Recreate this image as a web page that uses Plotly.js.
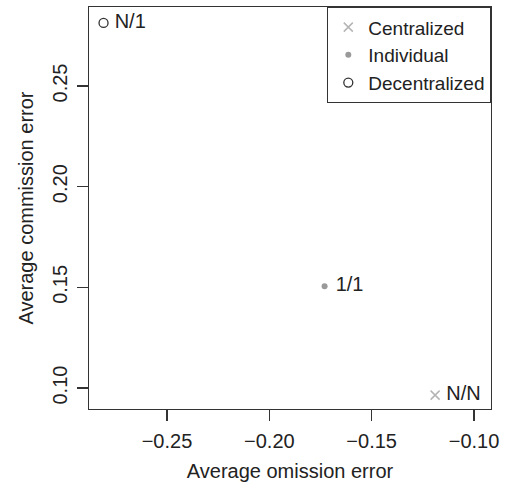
<!DOCTYPE html>
<html><head><meta charset="utf-8">
<script src="https://cdn.plot.ly/plotly-3.0.1.min.js"></script>
<style>html,body{margin:0;padding:0;background:#fff}#chart{width:506px;height:489px}</style>
</head><body><div id="chart"></div>
<script>
const groups = ["Centralized", "Individual", "Decentralized"];
const labels = ["N/N", "1/1", "N/1"];
const omission = [-0.119, -0.173, -0.281];
const commission = [0.0965, 0.1505, 0.2813];
const xTicks = [-0.25, -0.20, -0.15, -0.10];
const xTickText = ["\u22120.25", "\u22120.20", "\u22120.15", "\u22120.10"];
const yTicks = [0.10, 0.15, 0.20, 0.25];
const yTickText = ["0.10", "0.15", "0.20", "0.25"];

const styles = [
  {symbol: "x-thin-open", size: 9, color: "#b5b5b5", line: {width: 1.5, color: "#b5b5b5"}},
  {symbol: "circle", size: 6, color: "#9a9a9a", line: {width: 0}},
  {symbol: "circle-open", size: 9, color: "#333", line: {width: 1.3, color: "#333"}}
];

const font = {family: "Liberation Sans, Arial, sans-serif", size: 20, color: "#222"};
const legendFont = {family: "Liberation Sans, Arial, sans-serif", size: 19, color: "#222"};

const traces = groups.map((g, i) => ({
  type: "scatter", mode: "markers", name: g,
  x: [omission[i]], y: [commission[i]],
  marker: styles[i], cliponaxis: false
}));
traces.push({
  type: "scatter", mode: "text", showlegend: false,
  x: omission, y: commission, text: labels.map(s => "  " + s),
  textposition: "middle right", textfont: font, cliponaxis: false, hoverinfo: "skip"
});

const layout = {
  width: 506, height: 489,
  margin: {l: 89, r: 15, t: 7, b: 80},
  paper_bgcolor: "#fff", plot_bgcolor: "#fff",
  font: font,
  showlegend: true,
  legend: {x: 1, xanchor: "right", y: 1, yanchor: "top", bordercolor: "#333", borderwidth: 1.3,
           bgcolor: "#fff", font: legendFont, tracegroupgap: 0, itemsizing: "trace"},
  xaxis: {
    range: [-0.2881, -0.0917], tickvals: xTicks, ticktext: xTickText,
    showgrid: false, zeroline: false, showline: true, mirror: true, linecolor: "#333", linewidth: 1.3,
    ticks: "outside", ticklen: 11, tickwidth: 1.3, tickcolor: "#333",
    tickfont: font, ticklabelstandoff: 3,
    title: {text: "Average omission error", font: font, standoff: 12}
  },
  yaxis: {
    range: [0.0896, 0.2892], tickvals: yTicks, ticktext: yTickText, tickangle: -90,
    showgrid: false, zeroline: false, showline: true, mirror: true, linecolor: "#333", linewidth: 1.3,
    ticks: "outside", ticklen: 11, tickwidth: 1.3, tickcolor: "#333",
    tickfont: font, ticklabelstandoff: 2,
    title: {text: "Average commission error", font: font, standoff: 9}
  }
};
Plotly.newPlot("chart", traces, layout, {displayModeBar: false, staticPlot: true});
</script></body></html>
